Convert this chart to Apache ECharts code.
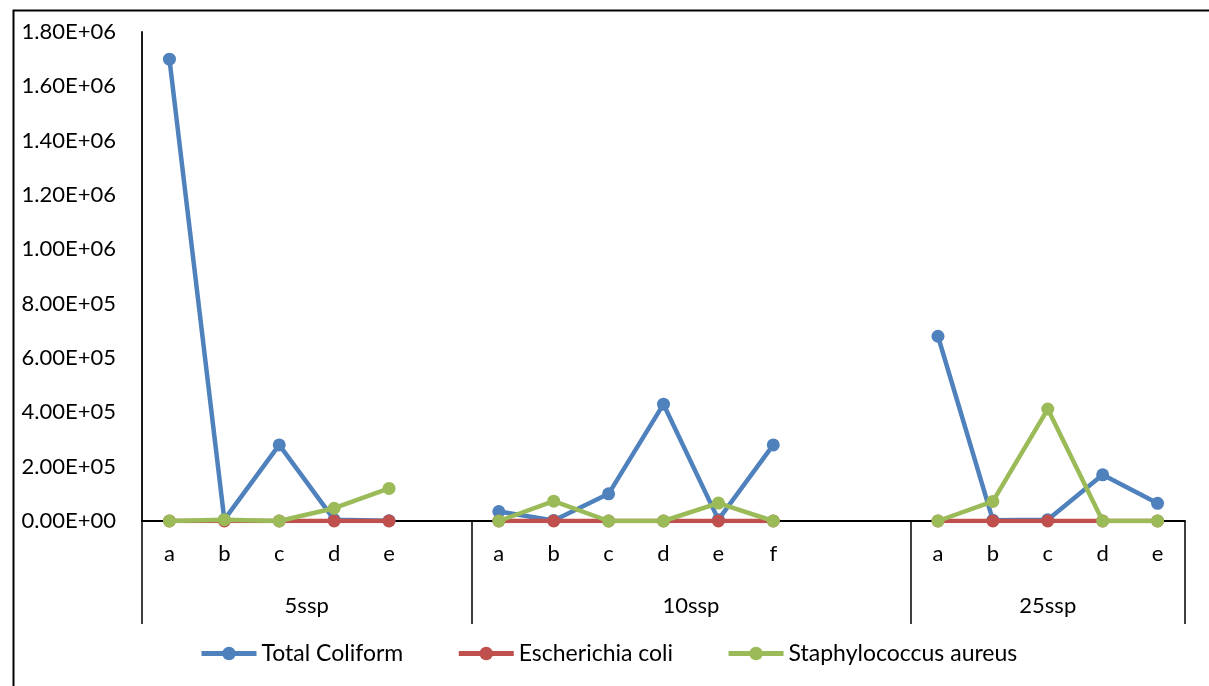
<!DOCTYPE html>
<html>
<head>
<meta charset="utf-8">
<script src="https://cdn.jsdelivr.net/npm/echarts@6/dist/echarts.min.js"></script>
<style>html,body{margin:0;padding:0;background:#fff;}#chart{width:1209px;height:686px;}</style>
</head>
<body>
<div id="chart"></div>
<script>
// ---- data ----
const groups = ['5ssp', '10ssp', '25ssp'];
const groupCategories = [
  ['a', 'b', 'c', 'd', 'e'],
  ['a', 'b', 'c', 'd', 'e', 'f'],
  ['a', 'b', 'c', 'd', 'e']
];
const groupSlots = [6, 8, 5]; // category slots per group incl. blank ones
const totalColiform = [
  [1700000, 5000, 280000, 5000, 1000],
  [35000, 2000, 100000, 430000, 5000, 280000],
  [680000, 3000, 5000, 170000, 65000]
];
const escherichiaColi = [
  [0, 0, 0, 0, 0],
  [0, 0, 0, 0, 0, 0],
  [0, 0, 0, 0, 0]
];
const staphylococcusAureus = [
  [0, 5000, 0, 47000, 120000],
  [0, 73000, 0, 0, 66000, 0],
  [0, 72000, 412000, 0, 0]
];
const yTicks = { min: 0, max: 1800000, interval: 200000 };
const seriesNames = ['Total Coliform', 'Escherichia coli', 'Staphylococcus aureus'];
const seriesColors = ['#4F81BD', '#C0504D', '#9BBB59'];

// ---- build flat axes ----
const categories = [];
groupCategories.forEach((cats, g) => {
  for (let i = 0; i < groupSlots[g]; i++) categories.push(i < cats.length ? cats[i] : '');
});
function flatten(arr) {
  const out = [];
  arr.forEach((vals, g) => {
    for (let i = 0; i < groupSlots[g]; i++) out.push(i < vals.length ? vals[i] : null);
  });
  return out;
}
const bounds = [0];
groupSlots.forEach(s => bounds.push(bounds[bounds.length - 1] + s));
const centers = groups.map((_, g) => (bounds[g] + bounds[g + 1]) / 2);

function sci(v) {
  if (v === 0) return '0.00E+00';
  const e = Math.floor(Math.log10(Math.abs(v)) + 1e-9);
  const m = v / Math.pow(10, e);
  return m.toFixed(2) + 'E' + (e < 0 ? '-' : '+') + String(Math.abs(e)).padStart(2, '0');
}

const font = 'Lato';
const fs = 22;
const chart = echarts.init(document.getElementById('chart'));
const datasets = [totalColiform, escherichiaColi, staphylococcusAureus];
chart.setOption({
  animation: false,
  backgroundColor: '#fff',
  textStyle: { fontFamily: font },
  graphic: [{
    type: 'rect', left: 11, top: 8, z: 100,
    shape: { width: 1300, height: 800 },
    style: { fill: 'none', stroke: '#000', lineWidth: 2 }
  }],
  grid: { left: 142, right: 24, top: 32, bottom: 165 },
  legend: {
    left: 199, top: 642, padding: 0,
    itemWidth: 55, itemHeight: 17, itemGap: 53,
    lineStyle: { width: 5 },
    textStyle: { fontFamily: font, fontSize: 23, color: '#000' },
    data: seriesNames
  },
  xAxis: [{
    type: 'category',
    data: categories,
    boundaryGap: true,
    axisLine: { lineStyle: { color: '#000', width: 1.8 } },
    axisTick: { show: false },
    axisLabel: { interval: 0, color: '#000', fontSize: fs, fontFamily: font, margin: 22 }
  }, {
    type: 'value',
    min: 0, max: bounds[bounds.length - 1],
    position: 'bottom',
    axisLine: { show: false },
    splitLine: { show: false },
    axisTick: { show: true, customValues: bounds, length: 103, lineStyle: { color: '#000', width: 1.5 } },
    axisLabel: {
      customValues: centers, color: '#000', fontSize: fs, fontFamily: font, margin: 74,
      formatter: v => { const i = centers.findIndex(c => Math.abs(c - v) < 1e-6); return i >= 0 ? groups[i] : ''; }
    }
  }],
  yAxis: {
    type: 'value',
    min: yTicks.min, max: yTicks.max, interval: yTicks.interval,
    axisLine: { show: true, lineStyle: { color: '#000', width: 1.8 } },
    axisTick: { show: false },
    splitLine: { show: false },
    axisLabel: { color: '#000', fontSize: fs, fontFamily: font, margin: 26, formatter: sci }
  },
  series: datasets.map((d, i) => ({
    name: seriesNames[i],
    type: 'line',
    xAxisIndex: 0,
    data: flatten(d),
    connectNulls: false,
    symbol: 'circle',
    symbolSize: 13,
    color: seriesColors[i],
    lineStyle: { width: 4.5, color: seriesColors[i] },
    itemStyle: { color: seriesColors[i] },
    z: 2 + i
  }))
});
</script>
</body>
</html>
